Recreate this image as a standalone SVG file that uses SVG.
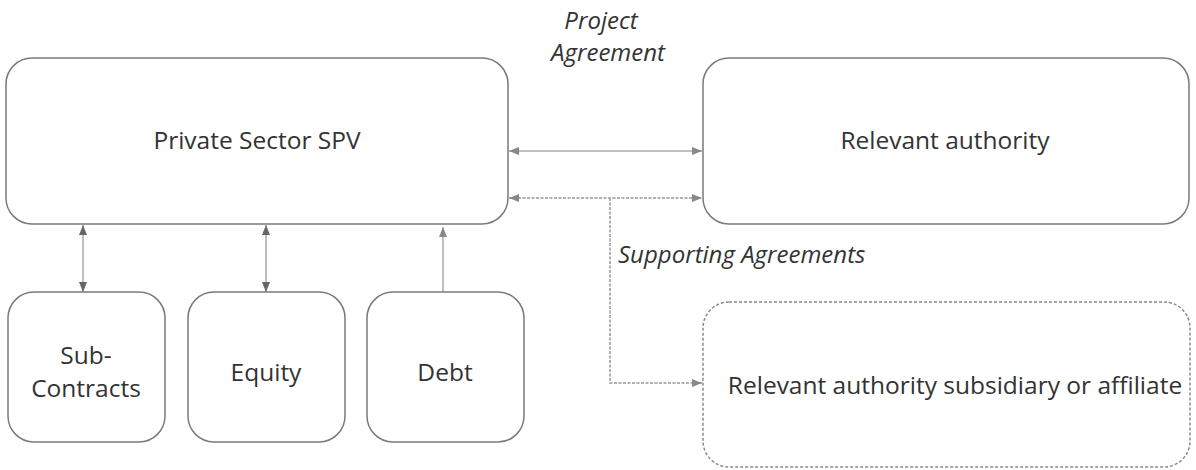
<svg xmlns="http://www.w3.org/2000/svg" width="1196" height="470" viewBox="0 0 1196 470">
<defs>
<style>
.box{fill:#fff;stroke:#7a7a7a;stroke-width:1.5}
.dbox{fill:#fff;stroke:#8a8a8a;stroke-width:1.5;stroke-dasharray:3 2}
.t{font-family:"Open Sans","Liberation Sans",sans-serif;font-size:24.5px;fill:#333;text-anchor:middle}
.it{font-family:"Open Sans","Liberation Sans",sans-serif;font-size:24px;fill:#333;font-style:italic}
.ln{fill:none;stroke:#aaa;stroke-width:1.5}
.dl{fill:none;stroke:#b0b0b0;stroke-width:2;stroke-dasharray:3 1.5}
</style>
<marker id="ah" viewBox="0 0 10 10" refX="10" refY="5" markerWidth="10" markerHeight="10" markerUnits="userSpaceOnUse" orient="auto-start-reverse">
<path d="M0,1 L10,5 L0,9 Z" fill="#666"/>
</marker>
<marker id="ahl" viewBox="0 0 10 10" refX="10" refY="5" markerWidth="10" markerHeight="10" markerUnits="userSpaceOnUse" orient="auto-start-reverse">
<path d="M0,1 L10,5 L0,9 Z" fill="#888"/>
</marker>
</defs>
<rect width="1196" height="470" fill="#fff"/>
<g id="connectors">
<line class="ln" x1="509" y1="151" x2="702" y2="151" marker-start="url(#ahl)" marker-end="url(#ahl)"/>
<line class="dl" x1="509" y1="198" x2="702" y2="198" marker-start="url(#ahl)" marker-end="url(#ahl)"/>
<polyline class="dl" points="610,198 610,383 702,383" marker-end="url(#ahl)"/>
<line class="ln" x1="83" y1="225" x2="83" y2="292" stroke="#888" marker-start="url(#ah)" marker-end="url(#ah)"/>
<line class="ln" x1="266" y1="225" x2="266" y2="292" stroke="#888" marker-start="url(#ah)" marker-end="url(#ah)"/>
<line class="ln" x1="443" y1="292" x2="443" y2="227" marker-end="url(#ahl)"/>
<text class="it" x="601" y="29" text-anchor="middle">Project</text>
<text class="it" x="608" y="61" text-anchor="middle">Agreement</text>
<text class="it" x="618" y="263">Supporting Agreements</text>
</g>
<g id="spv">
<rect class="box" x="6" y="58" width="502" height="166" rx="26"/>
<text class="t" x="257" y="149">Private Sector SPV</text>
</g>
<g id="authority">
<rect class="box" x="703" y="58" width="486" height="166" rx="26"/>
<text class="t" x="945" y="149">Relevant authority</text>
</g>
<g id="subcontracts">
<rect class="box" x="8" y="292" width="157" height="150" rx="26"/>
<text class="t" x="86" y="364">Sub-</text>
<text class="t" x="86" y="397">Contracts</text>
</g>
<g id="equity">
<rect class="box" x="188" y="292" width="157" height="150" rx="26"/>
<text class="t" x="266" y="381">Equity</text>
</g>
<g id="debt">
<rect class="box" x="367" y="292" width="157" height="150" rx="26"/>
<text class="t" x="445" y="381">Debt</text>
</g>
<g id="subsidiary">
<rect class="dbox" x="703" y="302" width="487" height="165" rx="26"/>
<text class="t" x="955" y="394">Relevant authority subsidiary or affiliate</text>
</g>
</svg>
